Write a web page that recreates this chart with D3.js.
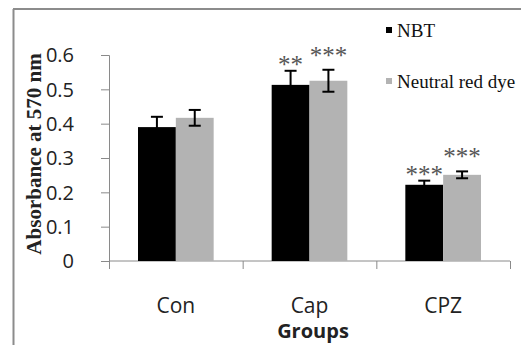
<!DOCTYPE html>
<html>
<head>
<meta charset="utf-8">
<script src="https://cdn.jsdelivr.net/npm/d3@7"></script>
<style>
  body { margin: 0; background: #fff; }
  svg { display: block; }
</style>
</head>
<body>
<div class="chart"></div>
<script>
// data
const groups = ["Con", "Cap", "CPZ"];
const seriesNames = ["NBT", "Neutral red dye"];
const nbt = [0.39, 0.513, 0.222];
const nbtErr = [0.03, 0.041, 0.012];
const neutral = [0.417, 0.525, 0.251];
const neutralErr = [0.023, 0.032, 0.01];
const nbtStars = ["", "**", "***"];
const neutralStars = ["", "***", "***"];
const yTicks = [0, 0.1, 0.2, 0.3, 0.4, 0.5, 0.6];

const W = 521, H = 345;
const svg = d3.select(".chart").append("svg")
    .attr("width", W)
    .attr("height", H);

// frame (only left and top edges are visible in the crop)
svg.append("line").attr("x1", 13.5).attr("x2", 13.5).attr("y1", 9).attr("y2", H)
    .attr("stroke", "#8c8c8c").attr("stroke-width", 2);
svg.append("line").attr("x1", 13).attr("x2", W).attr("y1", 9).attr("y2", 9)
    .attr("stroke", "#8c8c8c").attr("stroke-width", 2);

const plot = { left: 109, right: 510, top: 55, bottom: 261 };

const x = d3.scaleBand()
    .domain(groups)
    .range([plot.left, plot.right])
    .paddingInner(0)
    .paddingOuter(0);

const inner = d3.scaleBand()
    .domain(seriesNames)
    .range([29, x.bandwidth() - 29]);

const y = d3.scaleLinear()
    .domain([0, 0.6])
    .range([plot.bottom, plot.top]);

const axisColor = "#8a8a8a";

// y axis
const yAxis = svg.append("g")
    .attr("transform", `translate(${plot.left},0)`)
    .call(d3.axisLeft(y).tickValues(yTicks).tickSize(8).tickPadding(27)
        .tickFormat(d => d === 0 ? "0" : d3.format(".1f")(d)));
yAxis.select(".domain").attr("stroke", axisColor);
yAxis.selectAll(".tick line").attr("stroke", axisColor);
yAxis.selectAll(".tick text")
    .attr("font-family", "'Open Sans', sans-serif")
    .attr("font-size", 20)
    .attr("fill", "#222")
    .attr("dy", "0.34em");

// x axis with tick marks at band boundaries
svg.append("line")
    .attr("x1", plot.left).attr("x2", plot.right)
    .attr("y1", plot.bottom).attr("y2", plot.bottom)
    .attr("stroke", axisColor);
const bounds = groups.map(g => x(g)).concat([x(groups[groups.length - 1]) + x.bandwidth()]);
svg.selectAll(".xtick")
    .data(bounds)
    .join("line")
    .attr("class", "xtick")
    .attr("x1", d => d + 0.5).attr("x2", d => d + 0.5)
    .attr("y1", plot.bottom).attr("y2", plot.bottom + 8)
    .attr("stroke", axisColor);

svg.selectAll(".xlabel")
    .data(groups)
    .join("text")
    .attr("class", "xlabel")
    .attr("x", d => x(d) + x.bandwidth() / 2)
    .attr("y", 313)
    .attr("text-anchor", "middle")
    .attr("font-family", "'Open Sans', sans-serif")
    .attr("font-size", 21)
    .attr("fill", "#222")
    .text(d => d);

svg.append("text")
    .attr("x", 313)
    .attr("y", 338)
    .attr("text-anchor", "middle")
    .attr("font-family", "'Open Sans', sans-serif")
    .attr("font-weight", "bold")
    .attr("font-size", 20)
    .attr("fill", "#222")
    .text("Groups");

svg.append("text")
    .attr("transform", `translate(41,${(50 + 258) / 2}) rotate(-90)`)
    .attr("text-anchor", "middle")
    .attr("font-family", "'Liberation Serif', 'Times New Roman', serif")
    .attr("font-weight", "bold")
    .attr("font-size", 21)
    .attr("fill", "#222")
    .text("Absorbance at 570 nm");

// bars
const series = [
    { name: seriesNames[0], values: nbt, err: nbtErr, stars: nbtStars, color: "#000000", starLift: 10 },
    { name: seriesNames[1], values: neutral, err: neutralErr, stars: neutralStars, color: "#b3b3b3", starLift: 18 }
];

series.forEach(s => {
    const rows = groups.map((g, i) => ({ g, v: s.values[i], e: s.err[i], star: s.stars[i] }));
    const cx = d => x(d.g) + inner(s.name) + inner.bandwidth() / 2;

    svg.append("g").selectAll("rect")
        .data(rows)
        .join("rect")
        .attr("x", d => x(d.g) + inner(s.name))
        .attr("y", d => y(d.v))
        .attr("width", inner.bandwidth())
        .attr("height", d => y(0) - y(d.v))
        .attr("fill", s.color);

    const eb = svg.append("g").attr("stroke", "#000").attr("stroke-width", 2);
    eb.selectAll(".v").data(rows).join("line")
        .attr("x1", cx).attr("x2", cx)
        .attr("y1", d => y(d.v + d.e)).attr("y2", d => y(d.v - d.e));
    eb.selectAll(".t").data(rows).join("line")
        .attr("x1", d => cx(d) - 6).attr("x2", d => cx(d) + 6)
        .attr("y1", d => y(d.v + d.e)).attr("y2", d => y(d.v + d.e));
    eb.selectAll(".b").data(rows).join("line")
        .attr("x1", d => cx(d) - 6).attr("x2", d => cx(d) + 6)
        .attr("y1", d => y(d.v - d.e)).attr("y2", d => y(d.v - d.e));

    // significance asterisks, centre sits starLift px above the error cap
    svg.append("g").selectAll("text")
        .data(rows.filter(d => d.star))
        .join("text")
        .attr("x", cx)
        .attr("y", d => y(d.v + d.e) - s.starLift + 12)
        .attr("text-anchor", "middle")
        .attr("font-family", "'Liberation Serif', 'Times New Roman', serif")
        .attr("font-size", 25)
        .attr("fill", "#555")
        .text(d => d.star);
});

// legend
const legend = svg.append("g").selectAll("g")
    .data(series)
    .join("g")
    .attr("transform", (d, i) => `translate(386,${27 + i * 51})`);
legend.append("rect")
    .attr("width", 6).attr("height", 6)
    .attr("fill", d => d.color);
legend.append("text")
    .attr("x", 11).attr("y", 10)
    .attr("font-family", "'Liberation Serif', 'Times New Roman', serif")
    .attr("font-size", 19)
    .attr("fill", "#111")
    .text(d => d.name);
</script>
</body>
</html>
